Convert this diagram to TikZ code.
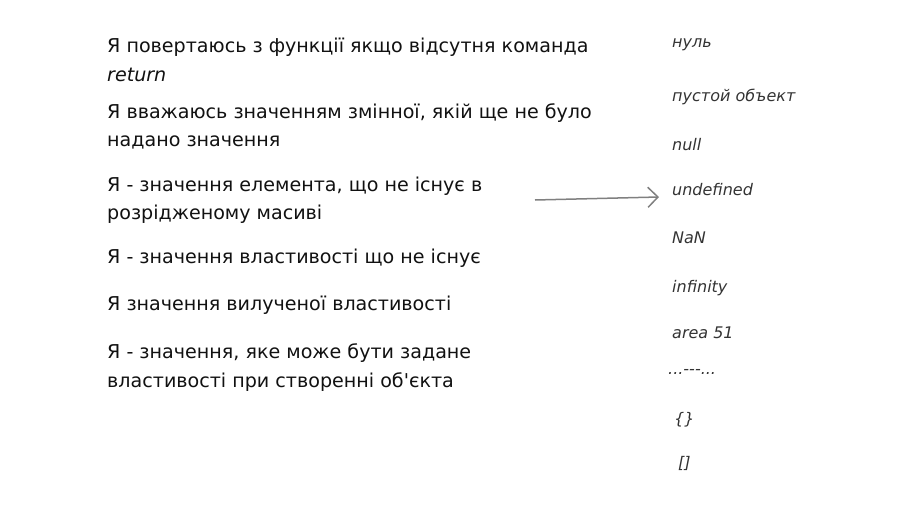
\documentclass[tikz,border=0pt]{standalone}
\usepackage{fontspec}
\newfontfamily\leftfont{DejaVu Sans}
\newfontfamily\handfont{DejaVu Sans}
\usetikzlibrary{arrows.meta}
\definecolor{txt}{HTML}{111111}
\definecolor{hand}{HTML}{333333}
\definecolor{arr}{HTML}{808080}
\tikzset{
  lefttext/.style={anchor=west, inner sep=0pt, text=txt, font=\leftfont\fontsize{19.1}{22}\selectfont},
  righttext/.style={anchor=west, inner sep=0pt, text=hand, font=\handfont\itshape\fontsize{16}{18}\selectfont},
  pointer/.style={draw=arr, line width=1.5pt, -{Straight Barb[length=10pt,width=20pt,line width=1.5pt]}}
}
\begin{document}
\begin{tikzpicture}[x=1pt,y=-1pt]
\useasboundingbox (0,0) rectangle (919,506);
\node[lefttext] (l1a) at (107,47) {Я повертаюсь з функції якщо відсутня команда};
\node[lefttext] (l1b) at (107,75) {\itshape return};
\node[lefttext] (l2a) at (107,113) {Я вважаюсь значенням змінної, якій ще не було};
\node[lefttext] (l2b) at (107,142) {надано значення};
\node[lefttext] (l3a) at (107,186) {Я - значення елемента, що не існує в};
\node[lefttext] (l3b) at (107,214) {розрідженому масиві};
\node[lefttext] (l4) at (107,258) {Я - значення властивості що не існує};
\node[lefttext] (l5) at (107,305) {Я значення вилученої властивості};
\node[lefttext] (l6a) at (107,353) {Я - значення, яке може бути задане};
\node[lefttext] (l6b) at (107,382) {властивості при створенні об'єкта};

\node[righttext] (r1) at (672,45) {нуль};
\node[righttext] (r2) at (672,97) {пустой объект};
\node[righttext] (r3) at (672,145) {null};
\node[righttext] (r4) at (672,190) {undefined};
\node[righttext] (r5) at (672,238) {NaN};
\node[righttext] (r6) at (672,288) {infinity};
\node[righttext] (r7) at (672,333) {area 51};
\node[righttext] (r8) at (668,372) {...---...};
\node[righttext] (r9) at (674,420) {\{\}};
\node[righttext] (r10) at (678,463) {[]};

\coordinate (astart) at (535,200);
\coordinate (aend) at (659,197);
\draw[pointer] (astart) -- (aend);
\end{tikzpicture}
\end{document}
